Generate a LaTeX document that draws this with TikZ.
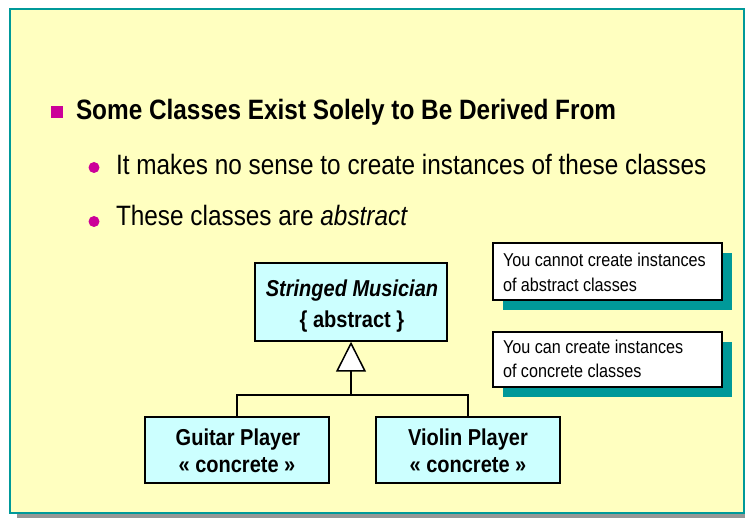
\documentclass[tikz,border=0pt]{standalone}
\usepackage{fontspec}
\setmainfont{Liberation Sans}[FakeStretch=0.87]
\usetikzlibrary{arrows.meta,shadows}
\definecolor{slidebg}{RGB}{255,255,192}
\definecolor{frameteal}{RGB}{0,153,153}
\definecolor{boxcyan}{RGB}{204,255,255}
\definecolor{bulletmag}{RGB}{204,0,153}
\definecolor{shadowgray}{RGB}{150,150,150}
\tikzset{
  txt/.style={inner sep=0pt, outer sep=0pt},
  bigtxt/.style={txt, font=\fontsize{28}{34}\selectfont},
  headtxt/.style={txt, font=\fontsize{28}{34}\selectfont\bfseries},
  umltxt/.style={txt, font=\fontsize{23}{28}\selectfont\bfseries, anchor=base},
  notetxt/.style={txt, font=\fontsize{18.6}{24}\selectfont, anchor=base west},
  classbox/.style={draw=black, line width=1.5pt, fill=boxcyan, inner sep=0pt, minimum width=#1},
  notebox/.style={draw=black, line width=1.5pt, fill=white, inner sep=0pt, minimum width=229pt,
    drop shadow={shadow xshift=10pt, shadow yshift=-10pt, fill=frameteal, opacity=1}},
  link/.style={draw=black, line width=1.5pt},
}
\begin{document}
\begin{tikzpicture}[x=1pt,y=-1pt]
\useasboundingbox (0,0) rectangle (745,518);
% slide frame
\fill[shadowgray] (17,17) rectangle (752,519);
\draw[frameteal, line width=2.5pt, fill=slidebg] (10,9) rectangle (744,513);

% bullets
\fill[bulletmag] (51,106) rectangle (63,118);
\fill[bulletmag] (94,167.5) circle (5.5);
\fill[bulletmag] (94,221.5) circle (5.5);
\node[headtxt, anchor=base west] (head) at (76,120) {Some Classes Exist Solely to Be Derived From};
\node[bigtxt, anchor=base west] (sub1) at (116,175) {It makes no sense to create instances of these classes};
\node[bigtxt, anchor=base west] (sub2) at (116,226) {These classes are \textit{abstract}};

% class boxes
\node[classbox=192pt, minimum height=78pt] (sm) at (351,302) {};
\node[umltxt] (smname) at (352,297) {\itshape Stringed Musician};
\node[umltxt] (smst) at (352,328) {\{ abstract \}};

\node[classbox=184pt, minimum height=66pt] (gp) at (237,450) {};
\node[umltxt] (gpname) at (238,446) {Guitar Player};
\node[umltxt] (gpst) at (237,473) {« concrete »};

\node[classbox=184pt, minimum height=66pt] (vp) at (468,450) {};
\node[umltxt] (vpname) at (468,446) {Violin Player};
\node[umltxt] (vpst) at (468,473) {« concrete »};

% generalization
\coordinate (junction) at (sm.south |- 0,395);
\draw[link] (gp.north) |- (junction) -| (vp.north);
\draw[link, -{Triangle[length=30pt, width=30pt, fill=white]}] (junction) -- (sm.south);

% notes
\node[notebox, minimum height=57pt] (n1) at (607.5,271.5) {};
\node[notetxt] (n1a) at (503,267) {You cannot create instances};
\node[notetxt] (n1b) at (503,292) {of abstract classes};

\node[notebox, minimum height=55pt] (n2) at (607.5,359.5) {};
\node[notetxt] (n2a) at (503,354) {You can create instances};
\node[notetxt] (n2b) at (503,378) {of concrete classes};
\end{tikzpicture}
\end{document}
